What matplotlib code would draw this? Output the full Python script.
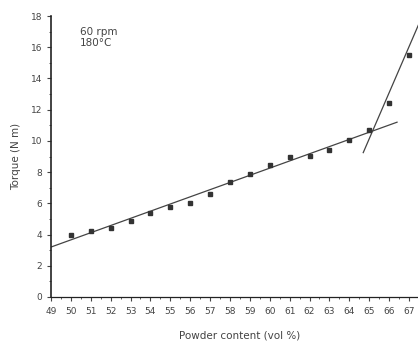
import numpy as np
from matplotlib import pyplot as plt

# measured torque vs powder loading
powder = [50, 51, 52, 53, 54, 55, 56, 57, 58, 59, 60, 61, 62, 63, 64, 65, 66, 67]
torque = [4.0, 4.25, 4.45, 4.9, 5.4, 5.75, 6.05, 6.6, 7.35, 7.9, 8.45, 8.95, 9.05, 9.4, 10.05, 10.7, 12.45, 15.5]

# the two straight lines drawn through the data
fit1_x = [49, 66.4]
fit1_y = [3.2, 11.2]
fit2_x = [64.7, 67.6]
fit2_y = [9.25, 17.8]

xticks = list(range(49, 68))
yticks = list(range(0, 19, 2))

fig = plt.figure(figsize=(4.18, 3.49), dpi=100)
ax = fig.add_axes([0.122, 0.149, 0.904, 0.805])

ax.plot(fit1_x, fit1_y, color='#444444', lw=0.9)
ax.plot(fit2_x, fit2_y, color='#444444', lw=0.9)
ax.plot(powder, torque, 's', color='#333333', ms=3.5)

ax.set_xlim(49, 68)
ax.set_ylim(0, 18)
ax.set_xticks(xticks)
ax.set_yticks(yticks)
ax.set_yticks(range(0, 19), minor=True)
ax.set_xticks(np.arange(49, 68.5, 0.5), minor=True)
ax.tick_params(labelsize=6.5, colors='#444444', length=3, width=0.8)
ax.tick_params(axis='x', pad=4)
ax.tick_params(which='minor', length=1.5, colors='#444444')

for s in ['top', 'right']:
    ax.spines[s].set_visible(False)
ax.spines['left'].set_linewidth(1.2)
ax.spines['left'].set_color('#222222')
ax.spines['bottom'].set_linewidth(0.9)
ax.spines['bottom'].set_color('#222222')

ax.set_xlabel('Powder content (vol %)', fontsize=7.5, color='#444444', labelpad=11)
ax.set_ylabel('Torque (N m)', fontsize=7.5, color='#444444', labelpad=7)
ax.text(0.077, 0.96, '60 rpm\n180°C', transform=ax.transAxes, fontsize=7.5,
        color='#444444', va='top', ha='left', linespacing=1.1)

fig.savefig('out.png', dpi=100)
